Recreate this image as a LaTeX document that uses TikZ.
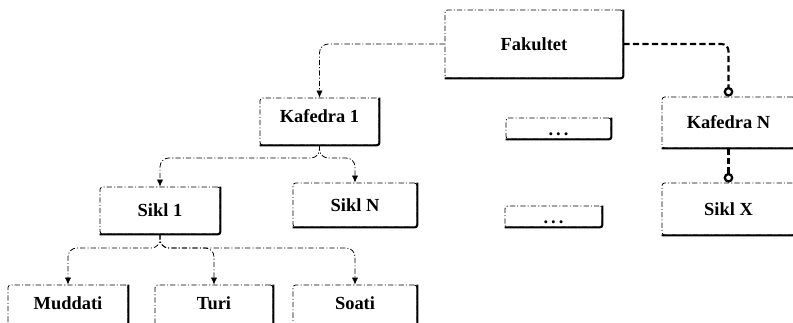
\documentclass[tikz,border=0pt]{standalone}
\usepackage{fontspec}
\setmainfont{Liberation Serif}
\usetikzlibrary{arrows.meta}

\tikzset{
  blok/.style={rectangle, draw, line width=0.45pt,
    dash pattern=on 3pt off 1.2pt on 0.6pt off 1.2pt,
    rounded corners=1.5pt, inner sep=0pt,
    font=\fontsize{10.5}{12}\selectfont\bfseries},
  kant/.style={line width=1.2pt, rounded corners=1.5pt},
  link/.style={-{Latex[length=4pt,width=3.6pt]}, line width=0.45pt,
    dash pattern=on 3pt off 1.2pt on 0.6pt off 1.2pt, rounded corners=5pt},
  bog/.style={-{Circle[open,length=5.5pt,line width=1.3pt]}, line width=1.2pt,
    dash pattern=on 3.6pt off 1.8pt, rounded corners=4pt}
}

\begin{document}
\begin{tikzpicture}[x=0.02cm, y=-0.02cm]
		\useasboundingbox (0,0) rectangle (793,323);

		% top level
		\node[blok, minimum width=3.56cm, minimum height=1.36cm] (fak) at (534,44) {Fakultet};

		% second row
		\node[blok, minimum width=2.38cm, minimum height=0.94cm, text height=0.26cm, text depth=0.2cm] (kaf1) at (319.5,121.5) {Kafedra 1};
		\node[blok, minimum width=2.1cm, minimum height=0.42cm, text height=0.28cm, text depth=0pt] (dot1) at (558.5,128.5) {.\hspace{0.16em}.\hspace{0.16em}.};
		\node[blok, minimum width=2.66cm, minimum height=1.02cm] (kafN) at (728.5,122.5) {Kafedra N};

		% third row
		\node[blok, minimum width=2.4cm, minimum height=0.94cm] (sikl1) at (160,210.5) {Sikl 1};
		\node[blok, minimum width=2.48cm, minimum height=0.88cm] (siklN) at (355,205) {Sikl N};
		\node[blok, minimum width=1.94cm, minimum height=0.42cm, text height=0.28cm, text depth=0pt] (dot2) at (553.5,216.5) {.\hspace{0.16em}.\hspace{0.16em}.};
		\node[blok, minimum width=2.66cm, minimum height=1.04cm] (siklX) at (728.5,209) {Sikl X};

		% bottom row
		\node[blok, minimum width=2.4cm, minimum height=1cm, text height=0.26cm, text depth=0.28cm] (mud) at (68,310) {Muddati};
		\node[blok, minimum width=2.36cm, minimum height=1cm, text height=0.26cm, text depth=0.28cm] (tur) at (214,310) {Turi};
		\node[blok, minimum width=2.48cm, minimum height=1cm, text height=0.26cm, text depth=0.28cm] (soat) at (355,310) {Soati};

		% heavy right and bottom edges
		\foreach \n in {fak,kaf1,dot1,kafN,sikl1,siklN,dot2,siklX,mud,tur,soat}
			\draw[kant] (\n.north east) -- (\n.south east) -- (\n.south west);

		% branch points
		\coordinate (j1) at (319.5,158);
		\coordinate (j2) at (160,248);

		\draw[link] (fak.west) -| (kaf1.north);
		\draw[link] (kaf1.south) -- (j1) -| (sikl1.north);
		\draw[link] (kaf1.south) -- (j1) -| (siklN.north);
		\draw[link] (sikl1.south) -- (j2) -| (mud.north);
		\draw[link] (sikl1.south) -- (j2) -| (tur.north);
		\draw[link] (sikl1.south) -- (j2) -| (soat.north);

		\draw[bog] (fak.east) -| (kafN.north);
		\draw[bog] (kafN.south) -- (siklX.north);

\end{tikzpicture}
\end{document}
